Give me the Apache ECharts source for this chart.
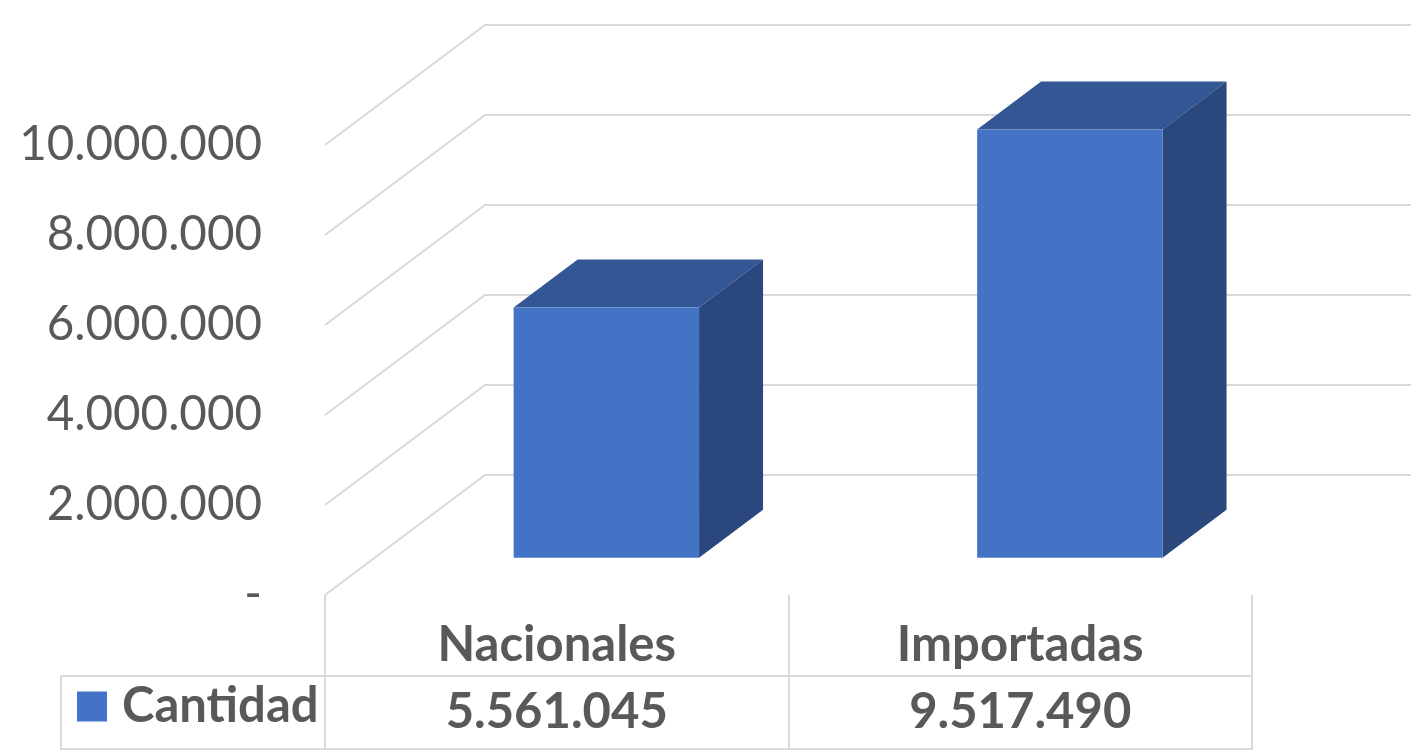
<!DOCTYPE html>
<html>
<head>
<meta charset="utf-8">
<script src="https://cdn.jsdelivr.net/npm/echarts@6/dist/echarts.min.js"></script>
<style>html,body{margin:0;padding:0;background:#fff;}#c{width:1419px;height:753px;}</style>
</head>
<body>
<div id="c"></div>
<script>
var categories = ['Nacionales', 'Importadas'];
var seriesName = 'Cantidad';
var values = [5561045, 9517490];
var yTicks = [0, 2000000, 4000000, 6000000, 8000000, 10000000];

var FONT = 'Lato';
var TXT = '#595959';
var GRID = '#D9D9D9';
var FRONT = '#4472C4', TOP = '#335694', SIDE = '#2A487D';
var DEPTH = [160, -120];     // full depth of the 3D floor
var BAR_FRONT = 0.31;        // bar front plane (fraction of depth)
var BAR_DEPTH = 0.4;         // bar depth (fraction of depth)
var BOLD_SIZE = 49, REG_SIZE = 47.5;

function fmt(n) { return String(n).replace(/\B(?=(\d{3})+(?!\d))/g, '.'); }

var chart = echarts.init(document.getElementById('c'));
chart.setOption({
  animation: false,
  backgroundColor: '#fff',
  grid: { left: 325, right: 167, top: 145, bottom: 158, containLabel: false, outerBoundsMode: 'none' },
  legend: {
    data: [seriesName], left: 77, top: 682, padding: 0,
    icon: 'rect', itemWidth: 30, itemHeight: 30,
    textStyle: { fontFamily: FONT, fontWeight: 'bold', fontSize: BOLD_SIZE, color: TXT, padding: [0, 0, 0, 10] }
  },
  xAxis: {
    type: 'category', data: categories,
    axisLine: { show: false },
    axisTick: { show: true, length: 155, lineStyle: { color: GRID, width: 2 } },
    axisLabel: { fontFamily: FONT, fontWeight: 'bold', fontSize: BOLD_SIZE, color: TXT, margin: 50, verticalAlign: 'middle' },
    splitLine: { show: false }
  },
  yAxis: {
    type: 'value', min: 0, max: 10000000, interval: 2000000,
    axisLine: { show: false }, axisTick: { show: false }, splitLine: { show: false },
    axisLabel: { fontFamily: FONT, fontSize: REG_SIZE, color: TXT, margin: 63,
      formatter: function (v) { return v === 0 ? '-' : fmt(v); } }
  },
  series: [
    {
      type: 'custom', name: 'walls', silent: true, z: 1,
      data: yTicks.map(function (v) { return [0, v]; }),
      renderItem: function (params, api) {
        var cs = params.coordSys;
        var y = api.coord([0, api.value(1)])[1];
        var l = cs.x, r = cs.x + cs.width;
        return {
          type: 'polyline',
          shape: { points: [[l, y], [l + DEPTH[0], y + DEPTH[1]], [r + DEPTH[0] - 1, y + DEPTH[1]]] },
          style: { stroke: GRID, lineWidth: 2, fill: null }
        };
      }
    },
    {
      type: 'custom', name: seriesName, z: 3,
      itemStyle: { color: FRONT },
      data: values.map(function (v, i) { return [i, v]; }),
      renderItem: function (params, api) {
        var c0 = api.coord([api.value(0), 0]);
        var c1 = api.coord([api.value(0), api.value(1)]);
        var bw = api.size([1, 0])[0];
        var w = bw * 0.4;
        var ox = DEPTH[0] * BAR_FRONT, oy = DEPTH[1] * BAR_FRONT;
        var dx = DEPTH[0] * BAR_DEPTH, dy = DEPTH[1] * BAR_DEPTH;
        var x0 = c0[0] - w / 2 + ox, x1 = x0 + w;
        var yb = c0[1] + oy, yt = c1[1] + oy;
        return {
          type: 'group',
          children: [
            { type: 'polygon', shape: { points: [[x0, yt], [x0 + dx, yt + dy], [x1 + dx, yt + dy], [x1, yt]] },
              style: { fill: TOP } },
            { type: 'polygon', shape: { points: [[x1, yt], [x1 + dx, yt + dy], [x1 + dx, yb + dy], [x1, yb]] },
              style: { fill: SIDE } },
            { type: 'rect', shape: { x: x0, y: yt, width: w, height: yb - yt },
              style: { fill: FRONT } }
          ]
        };
      }
    },
    {
      type: 'custom', name: 'table', silent: true, z: 2,
      data: values.map(function (v, i) { return [i, v]; }),
      renderItem: function (params, api) {
        var cs = params.coordSys;
        var bottom = cs.y + cs.height;
        var cx = api.coord([api.value(0), 0])[0];
        var children = [
          { type: 'text', x: cx, y: bottom + 117,
            style: { text: fmt(api.value(1)), fontFamily: FONT, fontWeight: 'bold', fontSize: BOLD_SIZE,
              fill: TXT, align: 'center', verticalAlign: 'middle' } }
        ];
        if (params.dataIndex === 0) {
          var r = cs.x + cs.width, tl = 61;
          children.push(
            { type: 'line', shape: { x1: tl, y1: bottom + 81, x2: r, y2: bottom + 81 }, style: { stroke: GRID, lineWidth: 2 } },
            { type: 'line', shape: { x1: tl, y1: bottom + 154, x2: r, y2: bottom + 154 }, style: { stroke: GRID, lineWidth: 2 } },
            { type: 'line', shape: { x1: tl, y1: bottom + 81, x2: tl, y2: bottom + 155 }, style: { stroke: GRID, lineWidth: 2 } }
          );
        }
        return { type: 'group', children: children };
      }
    }
  ]
});
</script>
</body>
</html>
